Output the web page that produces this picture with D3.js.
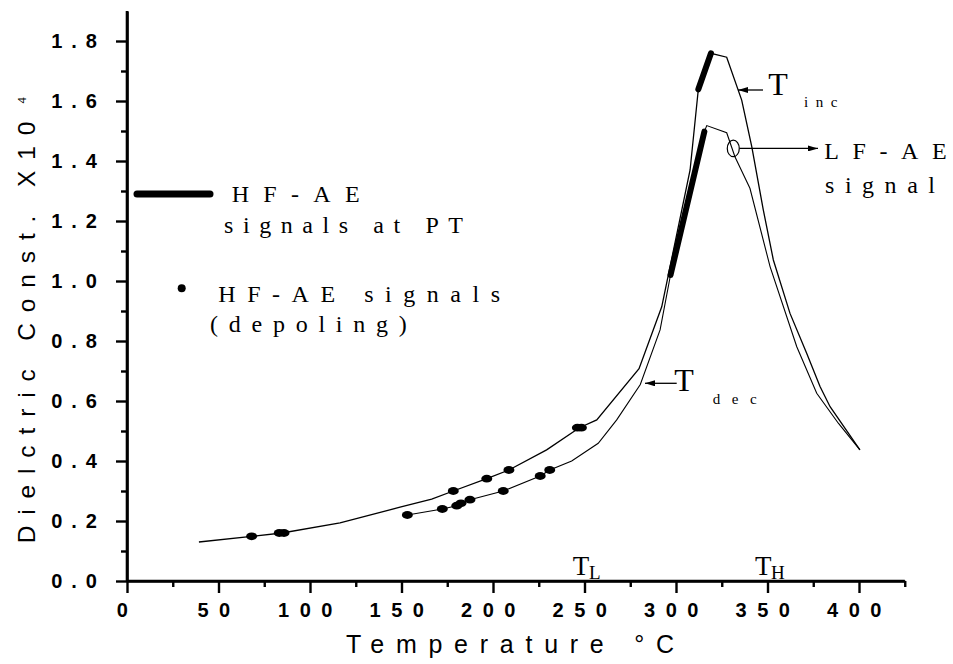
<!DOCTYPE html>
<html><head><meta charset="utf-8">
<script src="https://cdn.jsdelivr.net/npm/d3@7"></script>
<style>body{margin:0;background:#fff}svg{display:block}</style>
</head><body>
<svg id="c" width="953" height="664"></svg>
<script>
// ---- data ----
const tempTicks = [0,50,100,150,200,250,300,350,400];
const tempMinor = [25,75,125,175,225,275,325,375,425];
const dielTicks = [0,0.2,0.4,0.6,0.8,1.0,1.2,1.4,1.6,1.8];
const dielMinor = [0.1,0.3,0.5,0.7,0.9,1.1,1.3,1.5,1.7];

// heating curve (T inc)
const incT = [39.3,68.1,84.7,116.4,149.2,166.5,178.3,196.6,208.7,229.3,247.2,256.7,279.8,292.2,307.7,312.2,319.1,327.7,335.9,341.4,347.7,353.2,362.3,371.4,378.7,384.2,400.5];
const incV = [0.13,0.149,0.16,0.194,0.246,0.273,0.30,0.341,0.37,0.437,0.511,0.537,0.708,0.914,1.37,1.639,1.759,1.746,1.603,1.448,1.237,1.07,0.892,0.759,0.648,0.581,0.437];
// cooling curve (T dec)
const decT = [153.2,172.3,180.2,182.5,187.4,205.6,225.8,231,243,257.5,267.6,280.5,291.3,297,315.5,316.8,327.7,332.2,340.4,351.4,366,376.9,388.7,400.5];
const decV = [0.22,0.24,0.251,0.259,0.271,0.30,0.35,0.37,0.40,0.459,0.537,0.655,0.837,1.02,1.498,1.518,1.494,1.414,1.309,1.048,0.781,0.626,0.526,0.437];
// HF-AE depoling signals (dots)
const incDotT = [68.1,83.2,85.8,178.3,196.6,208.7,246.1,248.3];
const incDotV = [0.149,0.16,0.16,0.30,0.341,0.37,0.511,0.511];
const decDotT = [153.2,172.3,180.2,182.5,187.4,205.6,225.8,231];
const decDotV = [0.22,0.24,0.251,0.259,0.271,0.30,0.35,0.37];
// HF-AE signals at phase transition (thick segments)
const ptIncT = [312.2,319.1], ptIncV = [1.639,1.759];
const ptDecT = [297,315.5],   ptDecV = [1.02,1.498];
// LF-AE signal marker
const lfT = [331.3], lfV = [1.442];

// ---- drawing ----
const svg = d3.select("#c");
const x = d3.scaleLinear().domain([0,425]).range([127,904.75]);
const y = d3.scaleLinear().domain([0,1.9]).range([581,11]);
const SANS = "'Liberation Sans', Arial, sans-serif";
const SERIF = "'Liberation Serif', 'Times New Roman', serif";

// axes
const gx = svg.append("g").attr("transform","translate(0,581)");
gx.call(d3.axisBottom(x).tickValues(tempTicks).tickSizeInner(12).tickSizeOuter(0).tickPadding(9.5).tickFormat(d3.format("d")));
gx.append("g").call(d3.axisBottom(x).tickValues(tempMinor).tickSizeInner(6).tickSizeOuter(0).tickFormat(""));
const gy = svg.append("g").attr("transform","translate(127,0)");
gy.call(d3.axisLeft(y).tickValues(dielTicks).tickSizeInner(11).tickSizeOuter(0).tickPadding(10).tickFormat(d3.format(".1f")));
gy.append("g").call(d3.axisLeft(y).tickValues(dielMinor).tickSizeInner(6).tickSizeOuter(0).tickFormat(""));
svg.selectAll(".domain").attr("stroke","#000").attr("stroke-width",2.6);
svg.selectAll(".tick line").attr("stroke","#000").attr("stroke-width",2.4);
svg.selectAll(".tick text").attr("font-family",SANS).attr("font-weight","bold")
   .attr("font-size",20).attr("fill","#000");
gx.selectAll(".tick text").attr("letter-spacing","10.5px");
gy.selectAll(".tick text").attr("letter-spacing","9px");
// keep axis lines exactly at the data range
gx.select(".domain").attr("d",`M${x(0)},0H${x(425)}`);
gy.select(".domain").attr("d",`M0,${y(0)}V${y(1.9)}`);

// axis titles
svg.append("text").attr("x",346).attr("y",653.3)
  .attr("font-family",SANS).attr("font-size",25)
  .attr("textLength",328).attr("lengthAdjust","spacing").text("Temperature °C");
svg.append("text").attr("transform","translate(35,543.3) rotate(-90)")
  .attr("font-family",SANS).attr("font-size",24.5)
  .attr("textLength",421.6).attr("lengthAdjust","spacing").text("Dielctric Const. X10");
svg.append("text").attr("transform","translate(25.5,103.5) rotate(-90)")
  .attr("font-family",SANS).attr("font-size",11.5).text("4");

// curves
const line = d3.line().x(d=>x(d[0])).y(d=>y(d[1]));
const zip = (a,b)=>a.map((v,i)=>[v,b[i]]);
svg.append("path").attr("d",line(zip(incT,incV))).attr("fill","none").attr("stroke","#000").attr("stroke-width",1.3);
svg.append("path").attr("d",line(zip(decT,decV))).attr("fill","none").attr("stroke","#000").attr("stroke-width",1.1);
[zip(ptIncT,ptIncV),zip(ptDecT,ptDecV)].forEach(p=>{
  svg.append("path").attr("d",line(p)).attr("fill","none").attr("stroke","#000")
    .attr("stroke-width",6).attr("stroke-linecap","round");
});
svg.append("g").selectAll("ellipse").data(zip(incDotT,incDotV).concat(zip(decDotT,decDotV))).join("ellipse")
  .attr("cx",d=>x(d[0])).attr("cy",d=>y(d[1])).attr("rx",5.5).attr("ry",3.9).attr("fill","#000");

// LF-AE marker
svg.append("ellipse").attr("cx",x(lfT[0])).attr("cy",y(lfV[0])).attr("rx",6).attr("ry",8.3)
  .attr("fill","none").attr("stroke","#000").attr("stroke-width",1.2);

// arrows
const defs = svg.append("defs");
defs.append("marker").attr("id","ah").attr("viewBox","0 0 10 6").attr("refX",10).attr("refY",3)
  .attr("markerWidth",10).attr("markerHeight",6).attr("markerUnits","userSpaceOnUse").attr("orient","auto")
  .append("path").attr("d","M0,0L10,3L0,6Z").attr("fill","#000");
function arrow(x1,y1,x2,y2){
  svg.append("line").attr("x1",x1).attr("y1",y1).attr("x2",x2).attr("y2",y2)
    .attr("stroke","#000").attr("stroke-width",1.3).attr("marker-end","url(#ah)");
}
arrow(x(lfT[0])+6.2, y(lfV[0]), 818, y(lfV[0]));
arrow(763, 90, 738, 90);
arrow(676.7, 383.3, 645, 383.3);

// annotation text
function txt(t,xx,yy,fs,len,fam){
  const e = svg.append("text").attr("x",xx).attr("y",yy).attr("font-family",fam||SERIF)
    .attr("font-size",fs).attr("fill","#000").text(t);
  if(len) e.attr("textLength",len).attr("lengthAdjust","spacing");
  return e;
}
txt("LF-AE",824.3,159.3,24,122.4);
txt("signal",825,192.7,24,110);
txt("T",768.3,95,32);
txt("inc",804,106.7,15,33.3);
txt("T",674.3,391,32);
txt("dec",712.7,404,15,44);
txt("T",572.7,575,27);
txt("L",589,578.5,19);
txt("T",755,575,27);
txt("H",771,578.5,19);

// legend
svg.append("line").attr("x1",137).attr("x2",210).attr("y1",194).attr("y2",194)
  .attr("stroke","#000").attr("stroke-width",7).attr("stroke-linecap","round");
txt("HF-AE",231.7,202,24,128);
txt("signals at PT",224,233.3,24,239);
svg.append("circle").attr("cx",181.7).attr("cy",288.3).attr("r",4).attr("fill","#000");
txt("HF-AE signals",218.3,301.7,24,281.7);
txt("(depoling)",210,331.7,24,196.7);
</script>
</body></html>
